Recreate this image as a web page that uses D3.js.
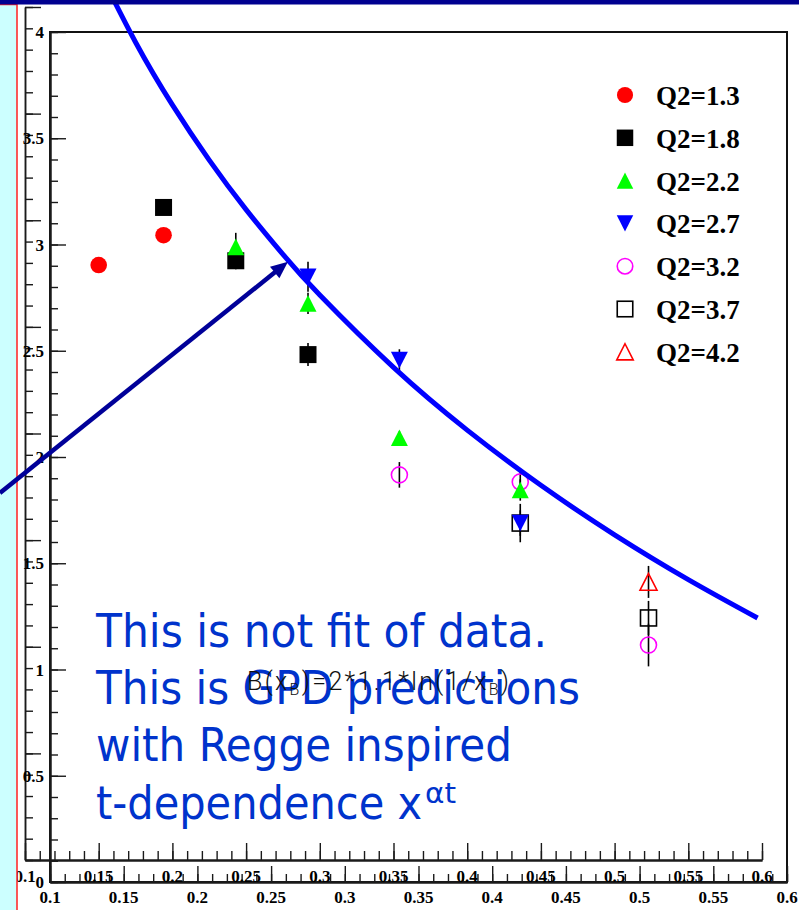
<!DOCTYPE html>
<html><head><meta charset="utf-8">
<script src="https://cdn.jsdelivr.net/npm/d3@7"></script>
<style>html,body{margin:0;padding:0;background:#fff;overflow:hidden}</style>
</head><body>
<svg id="c" width="799" height="910" xmlns="http://www.w3.org/2000/svg"></svg>
<script>
// ---------------- data ----------------
const seriesNames = ["Q2=1.3","Q2=1.8","Q2=2.2","Q2=2.7","Q2=3.2","Q2=3.7","Q2=4.2"];
const x_q13 = [0.150, 0.194];               const y_q13 = [2.79, 2.93];               const e_q13 = [0.02, 0.02];
const x_q18 = [0.194, 0.243, 0.292];        const y_q18 = [3.06, 2.81, 2.37];         const e_q18 = [0.02, 0.04, 0.054];
const x_q22 = [0.243, 0.292, 0.354, 0.436]; const y_q22 = [2.875, 2.61, 1.98, 1.735]; const e_q22 = [0.066, 0.05, 0.03, 0.05];
const x_q27 = [0.292, 0.354, 0.436];        const y_q27 = [2.735, 2.345, 1.58];       const e_q27 = [0.07, 0.05, 0.06];
const x_q32 = [0.354, 0.436, 0.523];        const y_q32 = [1.806, 1.773, 1.008];      const e_q32 = [0.06, 0.05, 0.10];
const x_q37 = [0.436, 0.523];               const y_q37 = [1.58, 1.135];              const e_q37 = [0.09, 0.08];
const x_q42 = [0.523];                      const y_q42 = [1.304];                    const e_q42 = [0.075];

// prediction curve B(xB)
const curveX = [0.15, 0.175, 0.2, 0.225, 0.25, 0.275, 0.3, 0.35, 0.4, 0.45, 0.5, 0.55, 0.597];
const curveY = [4.174, 3.835, 3.541, 3.282, 3.050, 2.840, 2.649, 2.310, 2.016, 1.757, 1.525, 1.315, 1.135];

// arrow annotation (data units)
const arrowFrom = [0.083, 1.721];
const arrowTo   = [0.2784, 2.805];

const xTickLabels = ["0.1","0.15","0.2","0.25","0.3","0.35","0.4","0.45","0.5","0.55","0.6"];
const yTickLabels = ["0","0.5","1","1.5","2","2.5","3","3.5","4"];

const noteLines = ["This is not fit of data.", "This is GPD predictions", "with Regge inspired", "t-dependence x"];
const noteSup = "\u03b1t";

// ---------------- styles ----------------
const styles = [
  {shape:"circle", fill:"#ff0000", stroke:"none"},
  {shape:"square", fill:"#000000", stroke:"none"},
  {shape:"up",     fill:"#00ff00", stroke:"none"},
  {shape:"down",   fill:"#0000ff", stroke:"none"},
  {shape:"circle", fill:"none",    stroke:"#ff00ff"},
  {shape:"square", fill:"none",    stroke:"#000000"},
  {shape:"up",     fill:"none",    stroke:"#ff0000"}
];
const seriesData = [
  [x_q13,y_q13,e_q13],[x_q18,y_q18,e_q18],[x_q22,y_q22,e_q22],[x_q27,y_q27,e_q27],
  [x_q32,y_q32,e_q32],[x_q37,y_q37,e_q37],[x_q42,y_q42,e_q42]
].map((s,i)=>({name:seriesNames[i], style:styles[i], pts:s[0].map((x,j)=>({x, y:s[1][j], e:s[2][j]}))}));

const svg = d3.select("#c");
const xO = d3.scaleLinear().domain([0.1,0.6]).range([25,762]);
const yO = d3.scaleLinear().domain([0,4]).range([860,7]);
const xI = d3.scaleLinear().domain([0.1,0.6]).range([50,787]);
const yI = d3.scaleLinear().domain([0,4]).range([882,32]);

const rng = (a,b,s)=>d3.range(Math.round((b-a)/s)+1).map(i=>+(a+i*s).toFixed(4));
const axCol = "#1a1a1a";
function styleAxis(g,w){ g.selectAll("path").attr("stroke",axCol).attr("stroke-width",w); g.selectAll("line").attr("stroke",axCol).attr("stroke-width",1.4); g.selectAll("text").remove(); }

// inner frame
svg.append("rect").attr("x",50).attr("y",32).attr("width",737).attr("height",850)
  .attr("fill","none").attr("stroke","#111").attr("stroke-width",2);

// outer axes
svg.append("g").attr("transform","translate(25,0)").call(d3.axisRight(yO).tickValues(rng(0,4,0.1)).tickSize(8).tickSizeOuter(0)).call(g=>styleAxis(g,1.5));
svg.append("g").attr("transform","translate(25,0)").call(d3.axisRight(yO).tickValues(rng(0,4,0.5)).tickSize(16).tickSizeOuter(0)).call(g=>styleAxis(g,1.5));
svg.append("g").attr("transform","translate(0,860)").call(d3.axisTop(xO).tickValues(rng(0.1,0.6,0.01)).tickSize(9).tickSizeOuter(0)).call(g=>styleAxis(g,2));
svg.append("g").attr("transform","translate(0,860)").call(d3.axisTop(xO).tickValues(rng(0.1,0.6,0.05)).tickSize(17).tickSizeOuter(0)).call(g=>styleAxis(g,2));
// inner axes
svg.append("g").attr("transform","translate(50,0)").call(d3.axisRight(yI).tickValues(rng(0,4,0.1)).tickSize(8).tickSizeOuter(0)).call(g=>styleAxis(g,2));
svg.append("g").attr("transform","translate(50,0)").call(d3.axisRight(yI).tickValues(rng(0,4,0.5)).tickSize(16).tickSizeOuter(0)).call(g=>styleAxis(g,2));
svg.append("g").attr("transform","translate(0,882)").call(d3.axisTop(xI).tickValues(rng(0.1,0.6,0.01)).tickSize(8).tickSizeOuter(0)).call(g=>styleAxis(g,2));
svg.append("g").attr("transform","translate(0,882)").call(d3.axisTop(xI).tickValues(rng(0.1,0.6,0.05)).tickSize(16).tickSizeOuter(0)).call(g=>styleAxis(g,2));

const lblFont = "'Liberation Serif','Times New Roman',serif";
// outer x labels
svg.append("g").selectAll("text").data(xTickLabels).join("text")
  .attr("x",d=>xO(+d)).attr("y",882).attr("text-anchor","middle")
  .attr("font-family",lblFont).attr("font-weight","bold").attr("font-size",17).text(d=>d);
// inner x labels
svg.append("g").selectAll("text").data(xTickLabels).join("text")
  .attr("x",d=>xI(+d)).attr("y",903).attr("text-anchor","middle")
  .attr("font-family",lblFont).attr("font-weight","bold").attr("font-size",17).text(d=>d);
// inner y labels
svg.append("g").selectAll("text").data(yTickLabels).join("text")
  .attr("x",44).attr("y",d=>yI(+d)+6).attr("text-anchor","end")
  .attr("font-family",lblFont).attr("font-weight","bold").attr("font-size",17).text(d=>d);

// error bars
const plot = svg.append("g");
seriesData.forEach(s=>{
  plot.append("g").selectAll("line").data(s.pts).join("line")
    .attr("x1",d=>xO(d.x)).attr("x2",d=>xO(d.x))
    .attr("y1",d=>yO(d.y+d.e)).attr("y2",d=>yO(d.y-d.e))
    .attr("stroke","#000").attr("stroke-width",1.6);
});

function drawMarker(g, shape, cx, cy, st, scale){
  const k = scale||1;
  const sw = st.fill==="none" ? 1.6 : 0;
  let el;
  if(shape==="circle"){
    el = g.append("circle").attr("cx",cx).attr("cy",cy).attr("r",(st.fill==="none"?8:8.3)*k);
  } else if(shape==="square"){
    const h = (st.fill==="none"?8:8.5)*k;
    el = g.append("rect").attr("x",cx-h).attr("y",cy-h).attr("width",2*h).attr("height",2*h);
  } else {
    const w=8.5*k, h=8.3*k, dir = shape==="up"?1:-1;
    el = g.append("path").attr("d",`M${cx},${cy-dir*h}L${cx+w},${cy+dir*h}L${cx-w},${cy+dir*h}Z`);
  }
  el.attr("fill",st.fill).attr("stroke",st.stroke==="none"?"none":st.stroke).attr("stroke-width",sw);
}
// open markers first, then filled
const order = [4,5,6,0,1,2,3];
order.forEach(i=>{
  const s = seriesData[i];
  const g = plot.append("g");
  s.pts.forEach(p=>drawMarker(g, s.style.shape, xO(p.x), yO(p.y), s.style));
});

// prediction curve
svg.append("path")
  .attr("d", d3.line().x(d=>xO(d[0])).y(d=>yO(d[1])).curve(d3.curveNatural)(curveX.map((x,i)=>[x,curveY[i]])))
  .attr("fill","none").attr("stroke","#0000ff").attr("stroke-width",5);

// legend
const leg = svg.append("g");
seriesData.forEach((s,i)=>{
  const cy = 95 + i*42.8;
  drawMarker(leg, s.style.shape, 625, cy, s.style, 0.97);
  leg.append("text").attr("x",656).attr("y",cy+10).attr("font-family",lblFont)
    .attr("font-weight","bold").attr("font-size",27).attr("fill","#000").text(s.name);
});

// note text
const noteFont = "'DejaVu Sans Condensed','DejaVu Sans',Verdana,sans-serif";
const noteWidths = [451, 484, 416, 326];
const noteBase = [647, 704, 761, 819];
noteLines.forEach((t,i)=>{
  svg.append("text").attr("x",96).attr("y",noteBase[i]).attr("font-family",noteFont)
    .attr("font-size",47).attr("fill","#0033cc")
    .attr("textLength",noteWidths[i]).attr("lengthAdjust","spacingAndGlyphs").text(t);
});
svg.append("text").attr("x",425).attr("y",803).attr("font-family",noteFont)
  .attr("font-size",28).attr("fill","#0033cc").attr("textLength",31).attr("lengthAdjust","spacingAndGlyphs").text(noteSup);

// formula
{
  const f = svg.append("text").attr("x",247).attr("y",690).attr("font-family","Roboto,'Liberation Sans',sans-serif")
    .attr("font-weight",300).attr("font-size",25).attr("fill","#111")
    .attr("textLength",262).attr("lengthAdjust","spacing");
  f.append("tspan").text("B(x");
  f.append("tspan").attr("dy",5).attr("font-size",16).text("B");
  f.append("tspan").attr("dy",-5).text(")=2*1.1*ln(1/x");
  f.append("tspan").attr("dy",5).attr("font-size",16).text("B");
  f.append("tspan").attr("dy",-5).text(")");
}

// decorations: cyan side strip and navy top bar
svg.append("rect").attr("x",-5).attr("y",4.5).attr("width",22).attr("height",920)
  .attr("fill","#ccffff").attr("stroke","#ff2020").attr("stroke-width",1.5);

// arrow (drawn over the side strip)
{
  const x0=xO(arrowFrom[0]), y0=yO(arrowFrom[1]), x1=xO(arrowTo[0]), y1=yO(arrowTo[1]);
  const ang = Math.atan2(y1-y0, x1-x0), L=17, W=7.5;
  const bx = x1 - L*Math.cos(ang), by = y1 - L*Math.sin(ang);
  svg.append("line").attr("x1",x0).attr("y1",y0).attr("x2",bx+3*Math.cos(ang)).attr("y2",by+3*Math.sin(ang))
    .attr("stroke","#000099").attr("stroke-width",4.5);
  svg.append("path").attr("d",`M${x1},${y1}L${bx+W*Math.sin(ang)},${by-W*Math.cos(ang)}L${bx-W*Math.sin(ang)},${by+W*Math.cos(ang)}Z`)
    .attr("fill","#000099");
}

svg.append("rect").attr("x",0).attr("y",0).attr("width",799).attr("height",4.5).attr("fill","#000090");
</script>
</body></html>
